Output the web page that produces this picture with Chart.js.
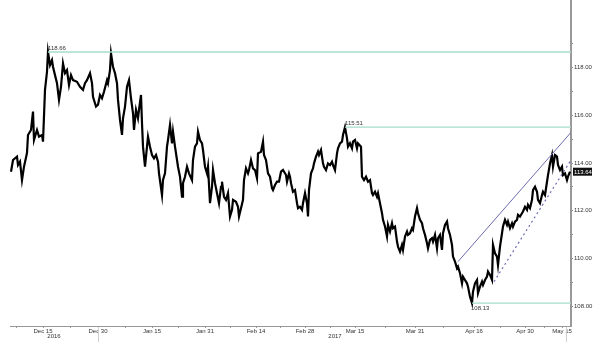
<!DOCTYPE html>
<html>
<head>
<meta charset="utf-8">
<script src="https://cdn.jsdelivr.net/npm/chart.js@4.4.1/dist/chart.umd.min.js"></script>
<style>
html,body{margin:0;padding:0;background:#fff;}
#wrap{width:600px;height:348px;}
</style>
</head>
<body>
<div id="wrap"><canvas id="c" width="600" height="348"></canvas></div>
<script>
// bar index (time position) of each sampled close
const bars = [
 11,13,17,18,20,22,24,27,28,31,
 33,34,37,39,42,43,45,47,48,50,
 52,53,55,57,59,61,63,65,67,69,
 71,73,77,80,83,85,87,90,92,93,
 96,98,100,102,104,107,108,110,111,113,
 115,117,118,120,122,123,125,127,129,131,
 133,134,136,138,139,141,142,143,145,147,
 148,150,152,154,156,158,159,162,163,165,
 167,168,170,172,173,175,177,178,180,182,
 183,185,187,189,192,193,195,197,198,200,
 202,203,205,207,208,210,212,213,215,217,
 219,221,222,224,226,228,230,232,233,236,
 238,239,241,243,244,246,248,249,251,253,
 255,257,258,261,263,264,266,268,270,272,
 273,275,277,279,281,283,286,287,289,290,
 291,293,295,297,298,300,302,303,305,307,
 308,309,311,313,314,316,318,319,321,323,
 324,326,328,330,332,333,335,337,338,340,
 342,343,345,347,348,350,352,353,355,357,
 358,361,362,364,366,368,370,372,373,375,
 377,378,380,382,383,385,387,388,390,392,
 393,395,397,398,400,402,403,405,407,408,
 410,412,413,415,417,418,420,422,423,425,
 427,428,430,432,433,435,437,438,440,442,
 443,445,447,448,450,452,453,455,457,458,
 460,462,463,465,467,468,470,472,473,475,
 477,478,480,482,483,485,487,488,490,492,
 493,495,497,498,500,502,503,505,507,508,
 510,512,513,515,517,518,520,522,523,525,
 527,528,530,532,533,535,537,538,540,542,
 543,545,547,548,550,552,553,555,557,558,
 560,562,563,565,567,568,570
];
const closes = [
 113.64,114.13,114.27,113.92,114.06,113.29,113.85,114.43,115.18,115.39,
 116.16,114.97,115.39,115.11,115.18,114.90,117.07,117.83,118.66,118.11,
 118.32,118.04,117.69,117.35,116.65,117.20,118.18,117.77,117.90,117.27,
 117.69,117.48,117.41,117.20,117.07,117.35,117.48,117.77,117.35,116.78,
 116.37,116.45,116.86,116.72,116.99,117.48,117.35,117.90,118.60,118.04,
 117.77,117.35,116.65,115.81,115.18,115.88,116.37,117.20,117.48,116.72,
 116.09,115.39,116.23,115.88,116.23,116.86,115.67,114.69,113.85,114.69,
 115.11,114.69,114.34,114.20,114.34,114.06,113.57,112.66,113.29,113.57,
 114.69,114.97,115.60,114.83,115.32,114.69,114.13,113.85,113.43,112.59,
 113.16,113.43,113.85,113.57,113.29,114.13,114.69,114.83,115.32,114.97,
 114.83,114.55,113.85,113.57,113.85,112.32,113.01,113.71,113.16,112.74,
 112.32,113.01,113.22,112.59,112.46,112.74,111.76,112.04,112.46,112.38,
 112.17,111.76,112.11,112.46,113.29,113.78,113.57,113.71,114.13,113.78,
 113.71,113.36,114.41,114.48,114.90,114.34,114.13,113.57,113.43,112.95,
 112.87,113.08,113.22,113.22,113.64,113.71,113.50,113.22,113.57,113.43,
 113.16,112.80,112.87,112.32,112.11,112.17,112.04,112.32,112.74,112.32,
 111.76,112.87,113.57,113.78,113.99,114.27,114.48,114.34,114.55,113.99,
 113.85,113.71,113.99,113.92,114.06,113.92,113.71,114.41,114.62,114.83,
 114.90,115.18,115.51,115.04,114.69,114.83,114.62,114.90,114.97,114.62,
 114.83,114.69,113.43,113.29,113.43,113.22,113.29,112.74,112.66,112.80,
 112.59,112.74,112.32,111.90,111.62,111.34,110.92,111.41,111.13,111.48,
 111.27,111.34,110.71,110.50,110.29,110.57,110.36,110.92,111.13,110.99,
 111.06,111.27,111.20,111.76,112.11,111.90,111.62,111.48,111.27,110.99,
 110.64,110.43,110.78,110.85,110.71,110.99,110.43,110.85,110.99,110.36,
 111.06,111.41,111.55,111.27,110.99,110.57,110.08,109.87,109.59,109.66,
 109.38,108.96,109.24,109.10,108.96,108.82,108.40,108.13,108.61,108.96,
 109.10,108.55,108.82,109.03,108.89,109.10,109.24,109.45,109.31,109.10,
 110.57,110.22,110.08,109.73,110.50,111.06,111.34,111.62,111.41,111.55,
 111.27,111.48,111.34,111.55,111.62,111.83,111.76,111.90,111.97,112.17,
 112.04,112.25,112.11,112.46,112.87,113.01,112.80,112.46,112.32,112.66,
 112.80,112.66,113.22,113.50,113.99,114.34,113.85,114.34,114.27,113.92,
 113.71,113.85,113.50,113.57,113.29,113.43,113.64
];

// x-axis labels and their bar positions
const xLabelBars = [43, 98, 152, 205, 256, 305, 355, 415, 474, 525, 562];
const xLabels = ['Dec 15','Dec 30','Jan 15','Jan 31','Feb 14','Feb 28','Mar 15','Mar 31','Apr 16','Apr 30','May 15'];
const xMinorBars = [16, 70, 125, 178, 230, 280, 330, 385, 444, 500, 544];
const yearLabels = ['2016','2017'];
const yearBars = [54, 335];
const separatorBars = [98, 566];

// y-axis ticks
const yTicks = [108,109,110,111,112,113,114,115,116,117,118,119];

// horizontal levels (price, bar where level starts)
const levelPrices = [118.66, 115.51, 108.13];
const levelStartBars = [48, 345, 472];
const levelLabelBelow = [false, false, true];

// trend lines
const upperTrendBars = [458, 571];
const upperTrendPrices = [109.87, 115.29];
const lowerTrendBars = [494, 571];
const lowerTrendPrices = [109.03, 114.13];

const lastPrice = 113.64;
const X_END = 571;

const FONT = 'Liberation Sans';
const levelColor = '#a6dccb';
const trendColor = '#6b6bb0';

const datasets = [];
levelPrices.forEach((p, i) => {
  datasets.push({
    data: [{x: levelStartBars[i], y: p}, {x: X_END, y: p}],
    borderColor: levelColor, borderWidth: 1.3, pointRadius: 0
  });
});
datasets.push({
  data: upperTrendBars.map((b, i) => ({x: b, y: upperTrendPrices[i]})),
  borderColor: trendColor, borderWidth: 1, pointRadius: 0
});
datasets.push({
  data: lowerTrendBars.map((b, i) => ({x: b, y: lowerTrendPrices[i]})),
  borderColor: trendColor, borderWidth: 1.2, borderDash: [2, 3], pointRadius: 0
});
datasets.push({
  data: bars.map((b, i) => ({x: b, y: closes[i]})),
  borderColor: '#000', borderWidth: 2.2, pointRadius: 0, tension: 0
});

const annot = {
  id: 'annot',
  afterDraw(chart) {
    const c = chart.ctx, xs = chart.scales.x, ys = chart.scales.y;
    c.save();
    c.font = '6px "' + FONT + '"';
    c.fillStyle = '#333';
    c.textAlign = 'left';
    levelPrices.forEach((p, i) => {
      const px = xs.getPixelForValue(levelStartBars[i]);
      const py = ys.getPixelForValue(p);
      if (levelLabelBelow[i]) { c.textBaseline = 'top'; c.fillText(p.toFixed(2), px - 1, py + 2); }
      else { c.textBaseline = 'bottom'; c.fillText(p.toFixed(2), px, py - 0.5); }
    });
    // year labels
    c.textAlign = 'center'; c.textBaseline = 'middle';
    yearLabels.forEach((t, i) => c.fillText(t, xs.getPixelForValue(yearBars[i]), 336));
    // separators below axis
    c.strokeStyle = '#cfcfcf'; c.lineWidth = 1;
    separatorBars.forEach(b => {
      const px = Math.round(xs.getPixelForValue(b)) + 0.5;
      c.beginPath(); c.moveTo(px, chart.chartArea.bottom + 1); c.lineTo(px, 342); c.stroke();
    });
    // last price box
    const ly = ys.getPixelForValue(lastPrice);
    c.fillStyle = '#111';
    c.fillRect(573, ly - 4, 19, 8);
    c.fillStyle = '#fff';
    c.textAlign = 'left'; c.textBaseline = 'middle';
    c.fillText(lastPrice.toFixed(2), 574, ly + 0.5);
    c.restore();
  }
};

new Chart(document.getElementById('c'), {
  type: 'line',
  data: { datasets },
  plugins: [annot],
  options: {
    responsive: false,
    animation: false,
    layout: { padding: { left: 10, top: 0, right: 0, bottom: 0 } },
    plugins: { legend: { display: false }, tooltip: { enabled: false } },
    scales: {
      x: {
        type: 'linear', min: 10, max: X_END,
        afterBuildTicks: s => { s.ticks = xLabelBars.concat(xMinorBars).sort((a,b)=>a-b).map(v => ({value: v})); },
        afterFit: s => { s.height = 22; s.paddingLeft = 0; s.paddingRight = 0; },
        grid: { drawOnChartArea: false, drawTicks: true, tickLength: 2, color: '#999' },
        border: { color: '#999', width: 1 },
        ticks: {
          autoSkip: false, maxRotation: 0, padding: 0, color: '#333',
          font: { family: FONT, size: 6 },
          callback: v => { const k = xLabelBars.indexOf(v); return k >= 0 ? xLabels[k] : ''; }
        }
      },
      y: {
        type: 'linear', position: 'right', min: 107.17, max: 120.84,
        afterBuildTicks: s => { s.ticks = yTicks.map(v => ({value: v})); },
        afterFit: s => { s.width = 29; s.paddingTop = 0; s.paddingBottom = 0; },
        grid: { drawOnChartArea: false, drawTicks: true, tickLength: 2, color: '#888' },
        border: { color: '#999', width: 2 },
        ticks: {
          padding: 1, color: '#333',
          font: { family: FONT, size: 6 },
          callback: v => (v % 2 === 0 ? v.toFixed(2) : '')
        }
      }
    }
  }
});
</script>
</body>
</html>
